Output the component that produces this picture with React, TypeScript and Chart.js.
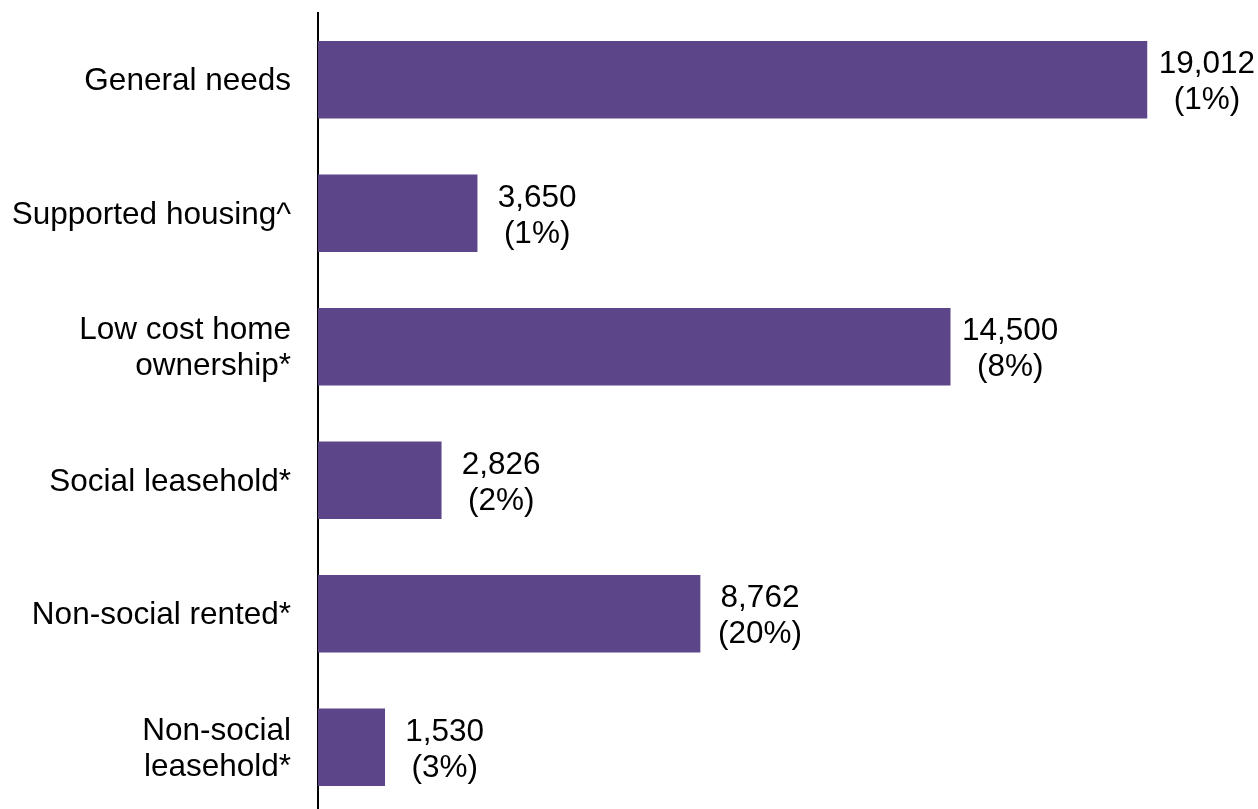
import React, { useEffect, useRef } from "react";
import { Chart, registerables } from "chart.js";

Chart.register(...registerables);

const categories: (string | string[])[] = [
  "General needs",
  "Supported housing^",
  ["Low cost home", "ownership*"],
  "Social leasehold*",
  "Non-social rented*",
  ["Non-social", "leasehold*"],
];
const values: number[] = [19012, 3650, 14500, 2826, 8762, 1530];
const percentLabels: string[] = ["(1%)", "(1%)", "(8%)", "(2%)", "(20%)", "(3%)"];

const FONT = "'Liberation Sans', Arial, sans-serif";
const FONT_SIZE = 31.5;
const BAR_COLOR = "#5c4589";

const valueLabelPlugin = {
  id: "valueLabels",
  afterDatasetsDraw(chart: any) {
    const ctx = chart.ctx;
    const meta = chart.getDatasetMeta(0);
    ctx.save();
    ctx.font = `${FONT_SIZE}px ${FONT}`;
    ctx.fillStyle = "#000";
    ctx.textAlign = "center";
    ctx.textBaseline = "middle";
    meta.data.forEach((bar: any, i: number) => {
      const x = bar.x + 60;
      const v = values[i].toLocaleString("en-US");
      ctx.fillText(v, x, bar.y - 15);
      ctx.fillText(percentLabels[i], x, bar.y + 21);
    });
    ctx.restore();
  },
};

export default function App() {
  const ref = useRef<HTMLCanvasElement | null>(null);
  useEffect(() => {
    if (!ref.current) return;
    const chart = new Chart(ref.current, {
      type: "bar",
      data: {
        labels: categories,
        datasets: [
          {
            data: values,
            backgroundColor: BAR_COLOR,
            borderWidth: 0,
            barThickness: 77,
          },
        ],
      },
      options: {
        indexAxis: "y",
        animation: false,
        responsive: false,
        devicePixelRatio: 1,
        layout: { padding: { top: 13, bottom: 1, left: 0, right: 0 } },
        plugins: {
          legend: { display: false },
          tooltip: { enabled: false },
        },
        scales: {
          x: {
            display: false,
            min: 0,
            max: 21560,
          },
          y: {
            afterFit(scale: any) {
              scale.width = 318;
              scale.paddingTop = 0;
              scale.paddingBottom = 0;
            },
            grid: { display: false, drawTicks: false },
            border: { display: true, color: "#000", width: 2 },
            ticks: {
              padding: 27,
              labelOffset: 2,
              color: "#000",
              font: { family: FONT, size: FONT_SIZE, lineHeight: 1.14 },
            },
          },
        },
      },
      plugins: [valueLabelPlugin],
    });
    return () => chart.destroy();
  }, []);
  return (
    <div
      style={{
        position: "fixed",
        left: 0,
        top: 0,
        width: 1258,
        height: 809,
        overflow: "hidden",
        background: "#fff",
      }}
    >
      <canvas ref={ref} width={1258} height={815} style={{ display: "block" }} />
    </div>
  );
}
